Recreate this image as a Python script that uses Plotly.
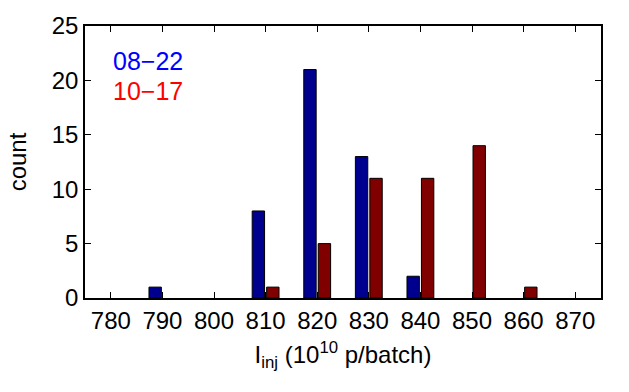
import plotly.graph_objects as go

# Histogram bins of injected intensity (10^10 p/batch)
bins = [780, 790, 800, 810, 820, 830, 840, 850, 860, 870]
counts_0822 = [0, 1, 0, 8, 21, 13, 2, 0, 0, 0]
counts_1017 = [0, 0, 0, 1, 5, 11, 11, 14, 1, 0]
series_names = ["08\u221222", "10\u221217"]

FONT = "Liberation Sans, Arial, Helvetica, sans-serif"
BAR_COLORS = ["#00008F", "#800000"]
TEXT_COLORS = ["#0000FF", "#FF0000"]

fig = go.Figure()
for name, vals, color, off in zip(series_names, [counts_0822, counts_1017],
                                  BAR_COLORS, [-2.6, 0.2]):
    # empty bins are left out so no outline is drawn on the baseline
    xs = [b for b, v in zip(bins, vals) if v > 0]
    ys = [v for v in vals if v > 0]
    fig.add_trace(go.Bar(
        x=xs, y=ys, name=name,
        width=2.4, offset=off,
        marker=dict(color=color, line=dict(color="black", width=1)),
        showlegend=False,
    ))

# Dataset labels in the upper-left corner
for i, (name, col) in enumerate(zip(series_names, TEXT_COLORS)):
    fig.add_annotation(
        x=0.05, y=0.87 - i * 0.11, xref="paper", yref="paper",
        text=name, showarrow=False, xanchor="left", yanchor="middle",
        font=dict(family=FONT, size=25, color=col),
    )

axis_common = dict(
    showline=True, linecolor="black", linewidth=1.5, mirror="ticks",
    ticks="inside", ticklen=6, tickwidth=1, tickcolor="black",
    showgrid=False, zeroline=False,
    tickfont=dict(family=FONT, size=24, color="black"),
)

fig.update_layout(
    width=629, height=392,
    margin=dict(l=85, r=28, t=19, b=94),
    paper_bgcolor="white", plot_bgcolor="white",
    barmode="overlay",
    font=dict(family=FONT, size=24, color="black"),
    xaxis=dict(
        range=[775, 875], tickmode="array", tickvals=bins,
        title=dict(text="I<sub>inj</sub> (10<sup>10</sup> p/batch)",
                   font=dict(family=FONT, size=24), standoff=14),
        **axis_common,
    ),
    yaxis=dict(
        range=[0, 25], tickmode="array", tickvals=[0, 5, 10, 15, 20, 25],
        title=dict(text="count", font=dict(family=FONT, size=24), standoff=18),
        **axis_common,
    ),
)

fig.write_html("out.html")
